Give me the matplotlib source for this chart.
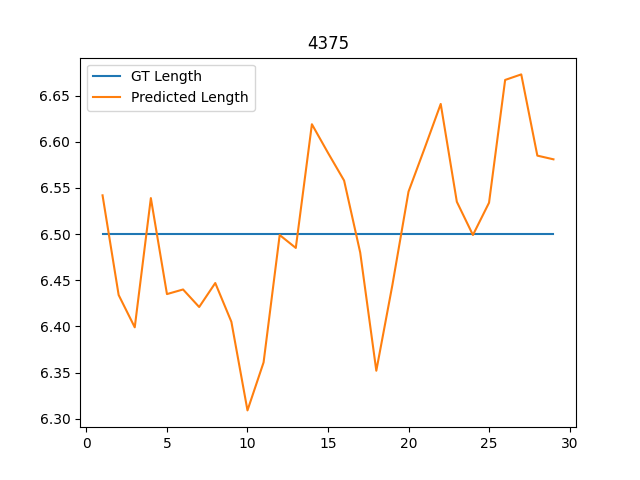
import matplotlib
matplotlib.use("Agg")
import matplotlib.pyplot as plt

# frame index and lengths
frames = list(range(1, 30))
gt_length = [6.5] * len(frames)
pred_length = [6.542, 6.434, 6.399, 6.539, 6.435, 6.440, 6.421, 6.447, 6.405, 6.309,
               6.361, 6.499, 6.485, 6.619, 6.588, 6.558, 6.480, 6.352, 6.445, 6.546,
               6.593, 6.641, 6.535, 6.499, 6.534, 6.667, 6.673, 6.585, 6.581]

fig, ax = plt.subplots(figsize=(6.4, 4.8), dpi=100)
ax.plot(frames, gt_length, label="GT Length")
ax.plot(frames, pred_length, label="Predicted Length")
ax.set_title("4375")
ax.legend(loc="upper left")
fig.savefig("out.png")
